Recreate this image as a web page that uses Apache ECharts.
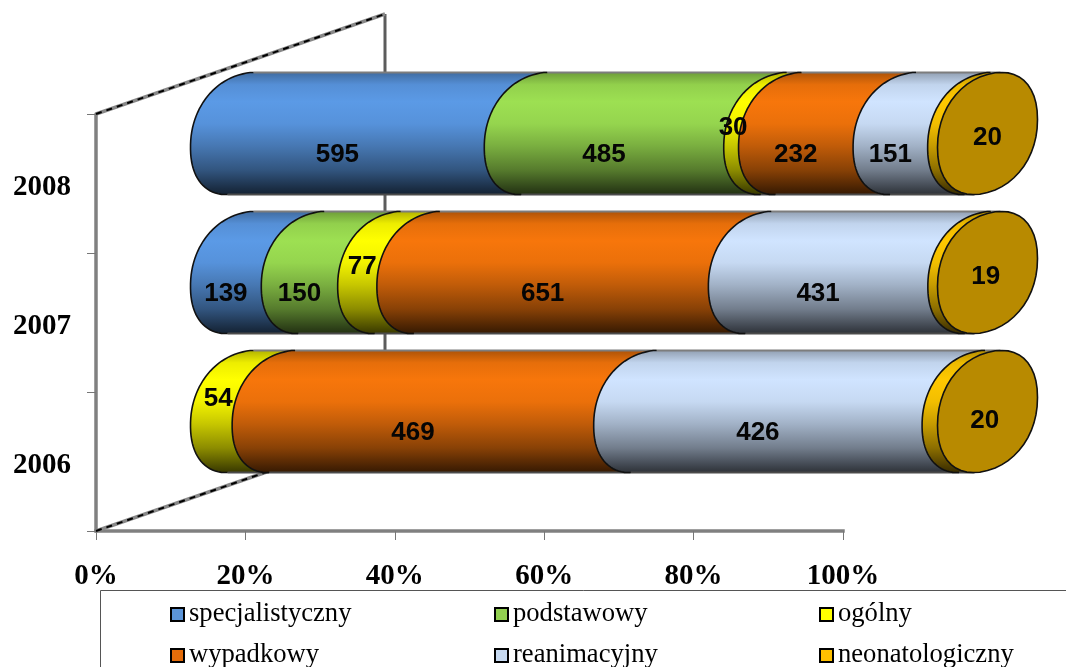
<!DOCTYPE html>
<html><head><meta charset="utf-8">
<script src="https://cdn.jsdelivr.net/npm/echarts@6/dist/echarts.min.js"></script>
<style>html,body{margin:0;padding:0;background:#fff}#c{width:1066px;height:667px}</style>
</head><body><div id="c"></div>
<script>
const years = ['2006', '2007', '2008'];
const xTicks = [0, 20, 40, 60, 80, 100];
const specjalistyczny = [0, 139, 595];
const podstawowy = [0, 150, 485];
const ogolny = [54, 77, 30];
const wypadkowy = [469, 651, 232];
const reanimacyjny = [426, 431, 151];
const neonatologiczny = [20, 19, 20];
const seriesNames = ['specjalistyczny', 'podstawowy', 'ogólny', 'wypadkowy', 'reanimacyjny', 'neonatologiczny'];
const seriesValues = [specjalistyczny, podstawowy, ogolny, wypadkowy, reanimacyjny, neonatologiczny];
const seriesColors = ['#5b9ae6', '#9de052', '#ffff00', '#f7760b', '#d0e4ff', '#ffc800'];
const legendColors = ['#5b94d8', '#92d050', '#ffff00', '#e46c0a', '#c6d9f1', '#ffc000'];

// 3D look
const depthX = 144.5, depthY = -50, capA = 50, capH = 59, capS = 14, capMax = 61, capP = 0.92;
const tTop = Math.atan2(-capH, capS);
const shades = [[0, .70], [.10, .93], [.24, 1], [.42, .95], [.60, .78], [.80, .55], [.95, .30], [1, .22]];
function shade(hex, f) {
  const n = parseInt(hex.slice(1), 16);
  const c = [n >> 16, (n >> 8) & 255, n & 255].map(v => Math.round(v * f));
  return 'rgb(' + c.join(',') + ')';
}
function grad(hex) {
  return { type: 'linear', x: 0, y: 0, x2: 0, y2: 1,
    colorStops: shades.map(s => ({ offset: s[0], color: shade(hex, s[1]) })) };
}
const spow = (v, p) => Math.sign(v) * Math.pow(Math.abs(v), p);
function arc(cx, cy, from, to) {
  const pts = [], n = 48;
  for (let i = 0; i <= n; i++) {
    const t = from + (to - from) * i / n;
    const cc = spow(Math.cos(t), capP), ss = spow(Math.sin(t), capP);
    const dy = Math.max(-capMax, Math.min(capMax, capH * ss - capS * cc));
    pts.push([cx + capA * cc, cy + dy]);
  }
  return pts;
}
const totals = years.map((_, i) => seriesValues.reduce((a, s) => a + s[i], 0));
function rows(si) {
  return years.map((_, i) => {
    let before = 0;
    for (let k = 0; k < si; k++) before += seriesValues[k][i];
    const v = seriesValues[si][i];
    return [before / totals[i] * 100, (before + v) / totals[i] * 100, i, v];
  }).filter(r => r[3] > 0);
}
// label offset from the segment's mid point; small segments are lifted
function labelOffset(si, yi) {
  if (si === 5) return [yi === 1 ? 3 : (yi === 0 ? 5 : 5), yi === 0 ? 9 : 4];
  if (si === 2) return [yi === 0 ? -43 : (yi === 1 ? -45 : -48), yi === 0 ? -13 : -6];
  return [-50, 21];
}
const FONT_SERIF = '"Liberation Serif","Times New Roman",serif';

function renderSegment(si) {
  return function (params, api) {
    const a = api.coord([api.value(0), api.value(2)]);
    const b = api.coord([api.value(1), api.value(2)]);
    const yi = api.value(2), val = api.value(3);
    const cy = a[1] + depthY, x0 = a[0] + depthX, x1 = b[0] + depthX;
    const left = arc(x0, cy, tTop, tTop - Math.PI);
    const right = arc(x1, cy, tTop + Math.PI, tTop);
    const hex = seriesColors[si];
    const children = [
      { type: 'polygon', shape: { points: left.concat(right) }, style: { fill: grad(hex), stroke: null } },
      { type: 'polyline', shape: { points: [left[0], right[right.length - 1]] }, style: { fill: null, stroke: '#7d7d7d', lineWidth: 2 } },
      { type: 'polyline', shape: { points: [left[left.length - 1], right[0]] }, style: { fill: null, stroke: '#4b4b4b', lineWidth: 2 } },
      { type: 'polyline', shape: { points: left }, style: { fill: null, stroke: '#111', lineWidth: 1.6 } }
    ];
    if (si === seriesNames.length - 1) {
      children.push({ type: 'polygon', shape: { points: arc(x1, cy, 0, Math.PI * 2) },
        style: { fill: '#b88a00', stroke: '#111', lineWidth: 1.6 } });
    }
    const off = labelOffset(si, yi);
    const mid = (x0 + x1) / 2;
    children.push({ type: 'text', z2: 100, style: {
      text: String(val), x: mid + off[0], y: cy + off[1], fill: '#050505',
      font: 'bold 26px "Liberation Sans",Arial,sans-serif', align: 'center', verticalAlign: 'middle' } });
    return { type: 'group', children };
  };
}

function renderWalls(params, api) {
  const c = params.coordSys;
  const l = c.x, t = c.y, b = c.y + c.height;
  const bx = l + 2 * depthX, dy = 2 * depthY;
  const diag = (p, q) => [
    { type: 'polyline', shape: { points: [p, q] }, style: { fill: null, stroke: '#888', lineWidth: 3.5 } },
    { type: 'polyline', shape: { points: [p, q] }, style: { fill: null, stroke: '#000', lineWidth: 2, lineDash: [6, 5] } }
  ];
  return { type: 'group', children: [
    { type: 'polyline', shape: { points: [[bx, t + dy], [bx, b + dy]] }, style: { fill: null, stroke: '#5c5c5c', lineWidth: 3 } },
    ...diag([l, t], [bx, t + dy]),
    ...diag([l, b], [bx, b + dy])
  ] };
}

const series = [{
  type: 'custom', name: 'walls', silent: true, z: 1, renderItem: renderWalls, data: [[0]],
  coordinateSystem: 'cartesian2d', encode: { x: 0 }
}];
seriesNames.forEach((name, si) => {
  series.push({
    type: 'custom', name, z: 2, coordinateSystem: 'cartesian2d', renderItem: renderSegment(si),
    itemStyle: { color: legendColors[si] },
    encode: { x: [0, 1], y: 2 }, data: rows(si)
  });
});

const legendPos = [[170, 601], [494, 601], [819, 601], [170, 642], [494, 642], [819, 642]];
const chart = echarts.init(document.getElementById('c'), null, { renderer: 'canvas' });
chart.setOption({
  animation: false,
  backgroundColor: '#fff',
  grid: { left: 96, top: 114, width: 747, height: 417 },
  xAxis: {
    type: 'value', min: 0, max: 100, interval: 20,
    axisLine: { show: true, lineStyle: { color: '#808080', width: 3.5, cap: 'square' } },
    axisTick: { show: true, length: 9, lineStyle: { color: '#777', width: 1 } },
    splitLine: { show: false },
    axisLabel: { margin: 31, formatter: v => v + '%', color: '#000', fontFamily: FONT_SERIF, fontWeight: 'bold', fontSize: 29 }
  },
  yAxis: {
    type: 'category', data: years,
    axisLine: { show: true, lineStyle: { color: '#808080', width: 3.5 } },
    axisTick: { show: true, length: 9, lineStyle: { color: '#777', width: 1 } },
    axisLabel: { margin: 25, color: '#000', fontFamily: FONT_SERIF, fontWeight: 'bold', fontSize: 29,
      formatter: v => '\n' + v, lineHeight: 8 }
  },
  legend: seriesNames.map((name, i) => ({
    left: legendPos[i][0], top: legendPos[i][1], padding: 0, itemWidth: 13, itemHeight: 13,
    selectedMode: false,
    data: [{ name, icon: 'rect', itemStyle: { color: legendColors[i], borderColor: '#000', borderWidth: 2 } }],
    textStyle: { color: '#000', fontFamily: FONT_SERIF, fontSize: 26.6, padding: [0, 0, 0, 0] }
  })),
  graphic: [{
    type: 'rect', silent: true, z: 0,
    shape: { x: 100.5, y: 590.5, width: 1000, height: 200 },
    style: { fill: 'none', stroke: '#555', lineWidth: 1 }
  }],
  series
});
</script></body></html>
